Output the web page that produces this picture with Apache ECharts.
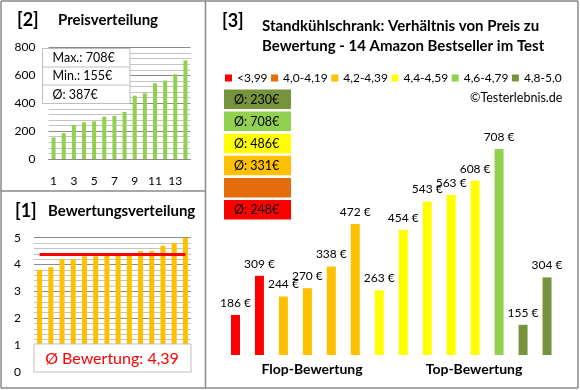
<!DOCTYPE html>
<html><head><meta charset="utf-8">
<script src="https://cdn.jsdelivr.net/npm/echarts@6/dist/echarts.min.js"></script>
<style>html,body{margin:0;padding:0;background:#fff}#c{width:580px;height:390px}</style>
</head><body><div id="c"></div>
<script>
// ---- data ----
const sortedPrices = [155, 186, 244, 263, 270, 304, 309, 338, 454, 472, 543, 563, 608, 708];
const sortedRatings = [3.8, 3.9, 4.2, 4.2, 4.3, 4.3, 4.4, 4.4, 4.4, 4.5, 4.5, 4.7, 4.8, 5.0];
const priceTicks = ['1','2','3','4','5','6','7','8','9','10','11','12','13','14'];
const mainPrices = [186, 309, 244, 270, 338, 472, 263, 454, 543, 563, 608, 708, 155, 304];
const mainRatings = [3.8, 3.9, 4.2, 4.2, 4.3, 4.3, 4.4, 4.4, 4.4, 4.5, 4.5, 4.7, 4.8, 5.0];
const classNames = ['<3,99', '4,0-4,19', '4,2-4,39', '4,4-4,59', '4,6-4,79', '4,8-5,0'];
const classColors = ['#FF0000', '#E46C0A', '#FFC000', '#FFFF00', '#92D050', '#77933C'];
const classLimits = [4.0, 4.2, 4.4, 4.6, 4.8, 99];

const FONT = 'Lato';
function classOf(r){ for (let i=0;i<classLimits.length;i++) if (r < classLimits[i] - 1e-9) return i; return 5; }
const cls = mainRatings.map(classOf);

const mainSeries = classNames.map((n, k) => ({
  name: n, type: 'bar', stack: 'm', xAxisIndex: 2, yAxisIndex: 2, barWidth: 9,
  itemStyle: { color: classColors[k] },
  label: { show: true, position: 'top', distance: 6, formatter: p => p.value + ' €', fontFamily: FONT, fontSize: 12, color: '#000' },
  data: mainPrices.map((v, i) => cls[i] === k ? v : '-')
}));

const maxP = Math.max(...sortedPrices), minP = Math.min(...sortedPrices);
const avgP = Math.round(sortedPrices.reduce((a,b)=>a+b,0)/sortedPrices.length);
const avgR = sortedRatings.reduce((a,b)=>a+b,0)/sortedRatings.length;
const avgRStr = avgR.toFixed(2).replace('.', ',');

// averages per class
const classAvg = classNames.map((n,k) => {
  const v = mainPrices.filter((p,i)=>cls[i]===k);
  return v.length ? Math.round(v.reduce((a,b)=>a+b,0)/v.length) : null;
});

const graphics = [];
const border = '#8a8a8a';
function line(x1,y1,x2,y2){ graphics.push({type:'line', z:200, shape:{x1,y1,x2,y2}, style:{stroke:border, lineWidth:1.5}}); }
line(1,1,578,1); line(1,1,1,388); line(578,1,578,388); line(1,388,578,388);
line(205.5,1,205.5,388); line(1,191,205.5,191);
function text(x,y,t,opt){ graphics.push(Object.assign({type:'text', z:200, x, y, style:Object.assign({text:t, fontFamily:FONT, fontSize:14, fill:'#000', textVerticalAlign:'middle'}, opt||{})})); }
text(17,20,'[2]',{fontSize:18,fontWeight:'bold'});
text(58,20,'Preisverteilung',{fontSize:15,fontWeight:'bold'});
text(15,211,'[1]',{fontSize:18,fontWeight:'bold'});
text(48,211,'Bewertungsverteilung',{fontSize:15,fontWeight:'bold'});
text(222,21,'[3]',{fontSize:18,fontWeight:'bold'});
text(262,26,'Standkühlschrank: Verhältnis von Preis zu',{fontSize:15,fontWeight:'bold'});
text(262,46,'Bewertung - 14 Amazon Bestseller im Test',{fontSize:15,fontWeight:'bold'});
text(470,98,'©Testerlebnis.de',{fontSize:12.5});
text(312,369,'Flop-Bewertung',{fontSize:14,fontWeight:'bold',textAlign:'center'});
text(474,369,'Top-Bewertung',{fontSize:14,fontWeight:'bold',textAlign:'center'});

// stat box panel 2
graphics.push({type:'rect', z:150, shape:{x:42.5,y:48.5,width:87.5,height:55}, style:{fill:'#fff', stroke:'#bfbfbf', lineWidth:1}});
graphics.push({type:'line', z:151, shape:{x1:42.5,y1:67,x2:130,y2:67}, style:{stroke:'#bfbfbf'}});
graphics.push({type:'line', z:151, shape:{x1:42.5,y1:85,x2:130,y2:85}, style:{stroke:'#bfbfbf'}});
text(52.5,58,'Max.: ' + maxP + '€',{fontSize:12.5});
text(52.5,76,'Min.: ' + minP + '€',{fontSize:12.5});
text(52.5,94.5,'Ø: ' + avgP + '€',{fontSize:12.5});

// rating box panel 1
graphics.push({type:'rect', z:150, shape:{x:34,y:344,width:157,height:28}, style:{fill:'#fff', stroke:'#bfbfbf', lineWidth:1}});
text(112,359,'Ø Bewertung: ' + avgRStr,{fontSize:16,fill:'#FF0000',textAlign:'center'});

// class average boxes
for (let j=0;j<6;j++){
  const k = 5-j;
  const top = 89.5 + j*22.1;
  graphics.push({type:'rect', z:150, shape:{x:224,y:top,width:67,height:19.5}, style:{fill:classColors[k]}});
  if (classAvg[k] !== null) text(234, top+10, 'Ø: ' + classAvg[k] + '€', {fontSize:12.5});
}

const gridLine = {show:true, lineStyle:{color:'#8c8c8c', width:1}};
const minorLine = {show:true, lineStyle:{color:'#c4c4c4', width:1}};
const option = {
  animation: false,
  textStyle: {fontFamily: FONT},
  grid: [
    {left:48.5, top:47.5, width:142, height:111.5},
    {left:34, top:237.7, width:157, height:134},
    {left:223.5, top:119.7, width:335.5, height:235.3}
  ],
  legend: {
    data: classNames, left: 225, top: 72, width: 350, padding: 0, itemWidth: 7, itemHeight: 7, itemGap: 3.5,
    icon: 'rect', textStyle: {fontFamily: FONT, fontSize: 12, color: '#000'}
  },
  xAxis: [
    {type:'category', gridIndex:0, data:priceTicks, axisTick:{show:false},
     axisLine:{lineStyle:{color:'#8c8c8c'}},
     axisLabel:{interval:1, margin:16, fontFamily:FONT, fontSize:12, color:'#000'}},
    {type:'category', gridIndex:1, data:sortedRatings.map((r,i)=>String(i+1)), axisTick:{show:false},
     axisLine:{lineStyle:{color:'#8c8c8c'}}, axisLabel:{show:false}},
    {type:'category', gridIndex:2, data:mainPrices.map((p,i)=>String(i+1)), axisTick:{show:false},
     axisLine:{show:false}, axisLabel:{show:false}}
  ],
  yAxis: [
    {type:'value', gridIndex:0, min:0, max:800, interval:200, splitLine:gridLine,
     minorTick:{show:false, splitNumber:5}, minorSplitLine:minorLine,
     axisLine:{show:false}, axisTick:{show:false},
     axisLabel:{margin:13, fontFamily:FONT, fontSize:12, color:'#000'}},
    {type:'value', gridIndex:1, min:0, max:5, interval:1, splitLine:gridLine,
     minorTick:{show:false, splitNumber:5}, minorSplitLine:minorLine,
     axisLine:{show:false}, axisTick:{show:false},
     axisLabel:{margin:13, fontFamily:FONT, fontSize:12, color:'#000'}},
    {type:'value', gridIndex:2, min:60, max:800, show:false, splitLine:{show:false}}
  ],
  series: [
    {type:'bar', xAxisIndex:0, yAxisIndex:0, barWidth:4, data:sortedPrices, itemStyle:{color:'#92D050'}},
    {type:'bar', xAxisIndex:1, yAxisIndex:1, barWidth:5, data:sortedRatings, itemStyle:{color:'#FFC000'},
     markLine:{silent:true, symbol:['none','none'], label:{show:false}, lineStyle:{color:'#FF0000', width:3, type:'solid'},
       data:[[{coord:['1', avgR]},{coord:['14', avgR]}]]}},
    ...mainSeries
  ],
  graphic: graphics
};
const chart = echarts.init(document.getElementById('c'), null, {renderer:'canvas'});
chart.setOption(option);
</script></body></html>
